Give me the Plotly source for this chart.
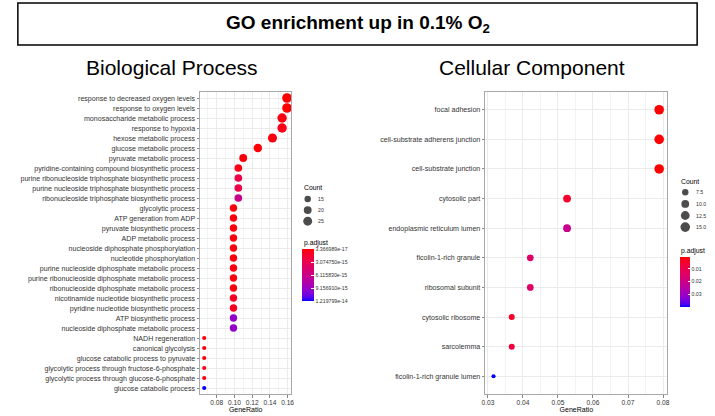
import math
import plotly.graph_objects as go

W, H = 715, 416
FONT = "Liberation Sans, Arial, Helvetica, sans-serif"

# ---- Biological Process enrichment (top to bottom) ----
bp_terms = [
    "response to decreased oxygen levels",
    "response to oxygen levels",
    "monosaccharide metabolic process",
    "response to hypoxia",
    "hexose metabolic process",
    "glucose metabolic process",
    "pyruvate metabolic process",
    "pyridine-containing compound biosynthetic process",
    "purine ribonucleoside triphosphate biosynthetic process",
    "purine nucleoside triphosphate biosynthetic process",
    "ribonucleoside triphosphate biosynthetic process",
    "glycolytic process",
    "ATP generation from ADP",
    "pyruvate biosynthetic process",
    "ADP metabolic process",
    "nucleoside diphosphate phosphorylation",
    "nucleotide phosphorylation",
    "purine nucleoside diphosphate metabolic process",
    "purine ribonucleoside diphosphate metabolic process",
    "ribonucleoside diphosphate metabolic process",
    "nicotinamide nucleotide biosynthetic process",
    "pyridine nucleotide biosynthetic process",
    "ATP biosynthetic process",
    "nucleoside diphosphate metabolic process",
    "NADH regeneration",
    "canonical glycolysis",
    "glucose catabolic process to pyruvate",
    "glycolytic process through fructose-6-phosphate",
    "glycolytic process through glucose-6-phosphate",
    "glucose catabolic process",
]
bp_ratio = [0.1593, 0.1593, 0.1538, 0.1538, 0.1429, 0.1264, 0.1099, 0.1044,
            0.1044, 0.1044, 0.1044, 0.0989, 0.0989, 0.0989, 0.0989, 0.0989,
            0.0989, 0.0989, 0.0989, 0.0989, 0.0989, 0.0989, 0.0989, 0.0989,
            0.0659, 0.0659, 0.0659, 0.0659, 0.0659, 0.0659]
bp_count = [29, 29, 28, 28, 26, 23, 20, 19, 19, 19, 19, 18, 18, 18, 18, 18,
            18, 18, 18, 18, 18, 18, 18, 18, 12, 12, 12, 12, 12, 12]
bp_padj = [3.366989e-17, 5.2e-17, 4.2e-16, 6.0e-16, 3.9e-16, 2.2e-16, 3.1e-16,
           5.2e-16, 2.6e-15, 2.6e-15, 6.2e-15, 3.2e-16, 3.2e-16, 3.2e-16,
           3.2e-16, 4.1e-16, 4.1e-16, 4.1e-16, 4.1e-16, 4.1e-16, 9.6e-16,
           9.6e-16, 9.5e-15, 9.5e-15, 4.6e-16, 4.6e-16, 4.6e-16, 4.6e-16,
           4.6e-16, 1.219799e-14]

# ---- Cellular Component enrichment (top to bottom) ----
cc_terms = [
    "focal adhesion",
    "cell-substrate adherens junction",
    "cell-substrate junction",
    "cytosolic part",
    "endoplasmic reticulum lumen",
    "ficolin-1-rich granule",
    "ribosomal subunit",
    "cytosolic ribosome",
    "sarcolemma",
    "ficolin-1-rich granule lumen",
]
cc_ratio = [0.0789, 0.0789, 0.0789, 0.0526, 0.0526, 0.0421, 0.0421, 0.0368, 0.0368, 0.0316]
cc_count = [15, 15, 15, 10, 10, 8, 8, 7, 7, 6]
cc_padj = [0.00031, 0.00031, 0.00034, 0.0048, 0.0205, 0.0138, 0.0138, 0.0040, 0.0072, 0.0398]

bp_count_breaks = [15, 20, 25]
cc_count_breaks = [7.5, 10.0, 12.5, 15.0]
cc_padj_breaks = [0.01, 0.02, 0.03]


def px_x(x):
    return x / W


def px_y(y):
    return 1 - y / H


# ---- red -> blue gradient interpolated in CIE Lab ----
def _lin(c):
    return c / 12.92 if c <= 0.04045 else ((c + 0.055) / 1.055) ** 2.4


def _gam(c):
    c = 12.92 * c if c <= 0.0031308 else 1.055 * c ** (1 / 2.4) - 0.055
    return min(max(c, 0.0), 1.0)


WHITE = (0.95047, 1.0, 1.08883)


def rgb_to_lab(rgb):
    r, g, b = (_lin(v / 255) for v in rgb)
    X = 0.4124564 * r + 0.3575761 * g + 0.1804375 * b
    Y = 0.2126729 * r + 0.7151522 * g + 0.0721750 * b
    Z = 0.0193339 * r + 0.1191920 * g + 0.9503041 * b
    d = 6 / 29

    def f(t):
        return t ** (1 / 3) if t > d ** 3 else t / (3 * d * d) + 4 / 29

    fx, fy, fz = f(X / WHITE[0]), f(Y / WHITE[1]), f(Z / WHITE[2])
    return (116 * fy - 16, 500 * (fx - fy), 200 * (fy - fz))


def lab_to_rgb(lab):
    L, a, b = lab
    d = 6 / 29
    fy = (L + 16) / 116
    fx = fy + a / 500
    fz = fy - b / 200

    def finv(t):
        return t ** 3 if t > d else 3 * d * d * (t - 4 / 29)

    X, Y, Z = WHITE[0] * finv(fx), WHITE[1] * finv(fy), WHITE[2] * finv(fz)
    r = 3.2404542 * X - 1.5371385 * Y - 0.4985314 * Z
    g = -0.9692660 * X + 1.8760108 * Y + 0.0415560 * Z
    bb = 0.0556434 * X - 0.2040259 * Y + 1.0572252 * Z
    return "rgb(%d,%d,%d)" % tuple(round(_gam(v) * 255) for v in (r, g, bb))


LOW, HIGH = rgb_to_lab((255, 0, 0)), rgb_to_lab((0, 0, 255))
# colour values are negated p.adjust so the colourbar reads small p at the top:
# scale position 0 = largest p (blue), 1 = smallest p (red)
COLORSCALE = []
for i in range(21):
    s = i / 20
    t = 1 - s
    COLORSCALE.append([s, lab_to_rgb(tuple(LOW[k] + (HIGH[k] - LOW[k]) * t for k in range(3)))])


def dot_size(c, lo, hi):
    return 4.2 + 5.4 * math.sqrt(max(c - lo, 0) / (hi - lo))


fig = go.Figure()

bp_lo, bp_hi = min(bp_count), max(bp_count)
cc_lo, cc_hi = min(cc_count), max(cc_count)

bp_breaks = [min(bp_padj) + (max(bp_padj) - min(bp_padj)) * k / 4 for k in range(5)]

fig.add_trace(go.Scatter(
    x=bp_ratio, y=bp_terms, mode="markers", xaxis="x", yaxis="y",
    marker=dict(
        size=[dot_size(c, bp_lo, bp_hi) for c in bp_count],
        color=[-p for p in bp_padj], colorscale=COLORSCALE,
        cmin=-max(bp_padj), cmax=-min(bp_padj), line=dict(width=0), opacity=1,
        colorbar=dict(
            x=px_x(301), xanchor="left", xpad=0,
            y=px_y(249), yanchor="top", ypad=0,
            len=52, lenmode="pixels", thickness=11.5, thicknessmode="pixels",
            outlinewidth=0, ticks="inside", ticklen=2.5, tickcolor="white", tickwidth=0.8,
            tickvals=[-b for b in bp_breaks], ticktext=["%.6e" % b for b in bp_breaks],
            tickfont=dict(family=FONT, size=5.2, color="#333333"),
        ),
    ),
    showlegend=False, hoverinfo="skip",
))

fig.add_trace(go.Scatter(
    x=cc_ratio, y=cc_terms, mode="markers", xaxis="x2", yaxis="y2",
    marker=dict(
        size=[dot_size(c, cc_lo, cc_hi) for c in cc_count],
        color=[-p for p in cc_padj], colorscale=COLORSCALE,
        cmin=-max(cc_padj), cmax=-min(cc_padj), line=dict(width=0), opacity=1,
        colorbar=dict(
            x=px_x(682.3), xanchor="left", xpad=0,
            y=px_y(256.7), yanchor="top", ypad=0,
            len=50, lenmode="pixels", thickness=9.5, thicknessmode="pixels",
            outlinewidth=0, ticks="inside", ticklen=2, tickcolor="white", tickwidth=0.8,
            tickvals=[-b for b in cc_padj_breaks], ticktext=["%.2f" % b for b in cc_padj_breaks],
            tickfont=dict(family=FONT, size=5.2, color="#333333"),
        ),
    ),
    showlegend=False, hoverinfo="skip",
))

# ---- size legends (drawn on a full-page pixel overlay) ----
fig.add_trace(go.Scatter(
    x=[306.7] * len(bp_count_breaks),
    y=[199 + 11.1 * i for i in range(len(bp_count_breaks))],
    mode="markers", xaxis="x3", yaxis="y3", cliponaxis=False,
    marker=dict(size=[dot_size(c, bp_lo, bp_hi) for c in bp_count_breaks], color="black", line=dict(width=0)),
    showlegend=False, hoverinfo="skip",
))
fig.add_trace(go.Scatter(
    x=[688] * len(cc_count_breaks),
    y=[192.3 + 11.6 * i for i in range(len(cc_count_breaks))],
    mode="markers", xaxis="x3", yaxis="y3", cliponaxis=False,
    marker=dict(size=[dot_size(c, cc_lo, cc_hi) for c in cc_count_breaks], color="black", line=dict(width=0)),
    showlegend=False, hoverinfo="skip",
))

annotations = []
for i, c in enumerate(bp_count_breaks):
    annotations.append(dict(x=px_x(315.5), y=px_y(199 + 11.1 * i), text=str(c), xanchor="left",
                            yanchor="middle", font=dict(family=FONT, size=5.2, color="#333333")))
for i, c in enumerate(cc_count_breaks):
    annotations.append(dict(x=px_x(697), y=px_y(192.3 + 11.6 * i), text="%.1f" % c, xanchor="left",
                            yanchor="middle", font=dict(family=FONT, size=5.2, color="#333333")))

legend_titles = [("Count", 301, 187.3), ("p.adjust", 301, 243.0),
                 ("Count", 681.5, 181.5), ("p.adjust", 681.5, 250.5)]
for txt, lx, ly in legend_titles:
    annotations.append(dict(x=px_x(lx), y=px_y(ly), text=txt, xanchor="left", yanchor="middle",
                            font=dict(family=FONT, size=6.8, color="black")))

annotations += [
    dict(x=px_x(357), y=px_y(24.5), text="<b>GO enrichment up in 0.1% O<sub>2</sub></b>",
         xanchor="center", yanchor="middle", font=dict(family=FONT, size=19, color="black")),
    dict(x=px_x(170), y=px_y(68), text="Biological Process", xanchor="center", yanchor="middle",
         font=dict(family=FONT, size=21, color="black")),
    dict(x=px_x(533), y=px_y(68), text="Cellular Component", xanchor="center", yanchor="middle",
         font=dict(family=FONT, size=21, color="black")),
]
for a in annotations:
    a.update(xref="paper", yref="paper", showarrow=False)

GRID = "#EBEBEB"
BORDER = "#A8A8A8"


def x_axis(domain, anchor, rng, dtick, minor_dtick):
    return dict(
        domain=domain, anchor=anchor, range=rng, dtick=dtick, tick0=0, tickformat=".2f",
        ticks="outside", ticklen=2.5, tickcolor="#888888", tickwidth=0.8,
        tickfont=dict(family=FONT, size=6.6, color="#333333"),
        showline=True, mirror=True, linecolor=BORDER, linewidth=1,
        showgrid=True, gridcolor=GRID, gridwidth=0.9, zeroline=False,
        minor=dict(dtick=minor_dtick, tick0=0, showgrid=True, gridcolor="#F3F3F3", gridwidth=0.6),
        title=dict(text="GeneRatio", font=dict(family=FONT, size=7, color="black"), standoff=1),
        fixedrange=True,
    )


def y_axis(domain, anchor, terms):
    return dict(
        domain=domain, anchor=anchor, type="category", categoryorder="array",
        categoryarray=list(reversed(terms)), range=[-0.6, len(terms) - 0.4],
        ticks="outside", ticklen=2.5, tickcolor="#888888", tickwidth=0.8,
        tickfont=dict(family=FONT, size=7.1, color="#333333"),
        showline=True, mirror=True, linecolor=BORDER, linewidth=1,
        showgrid=True, gridcolor=GRID, gridwidth=0.9, zeroline=False, fixedrange=True,
    )


panel_y = [px_y(394), px_y(92)]

fig.update_layout(
    width=W, height=H, margin=dict(l=0, r=0, t=0, b=0),
    paper_bgcolor="white", plot_bgcolor="rgba(0,0,0,0)",
    font=dict(family=FONT),
    xaxis=x_axis([px_x(198), px_x(290)], "y", [0.0612, 0.1640], 0.02, 0.01),
    yaxis=y_axis(panel_y, "x", bp_terms),
    xaxis2=x_axis([px_x(486), px_x(670)], "y2", [0.02924, 0.08126], 0.01, 0.005),
    yaxis2=y_axis(panel_y, "x2", cc_terms),
    xaxis3=dict(domain=[0, 1], anchor="y3", range=[0, W], visible=False, fixedrange=True),
    yaxis3=dict(domain=[0, 1], anchor="x3", range=[H, 0], visible=False, fixedrange=True),
    shapes=[dict(type="rect", xref="paper", yref="paper",
                 x0=px_x(14), x1=px_x(700), y0=px_y(45), y1=px_y(3),
                 line=dict(color="black", width=1.5))],
    annotations=annotations,
    hovermode=False,
)

fig.write_html("out.html")
